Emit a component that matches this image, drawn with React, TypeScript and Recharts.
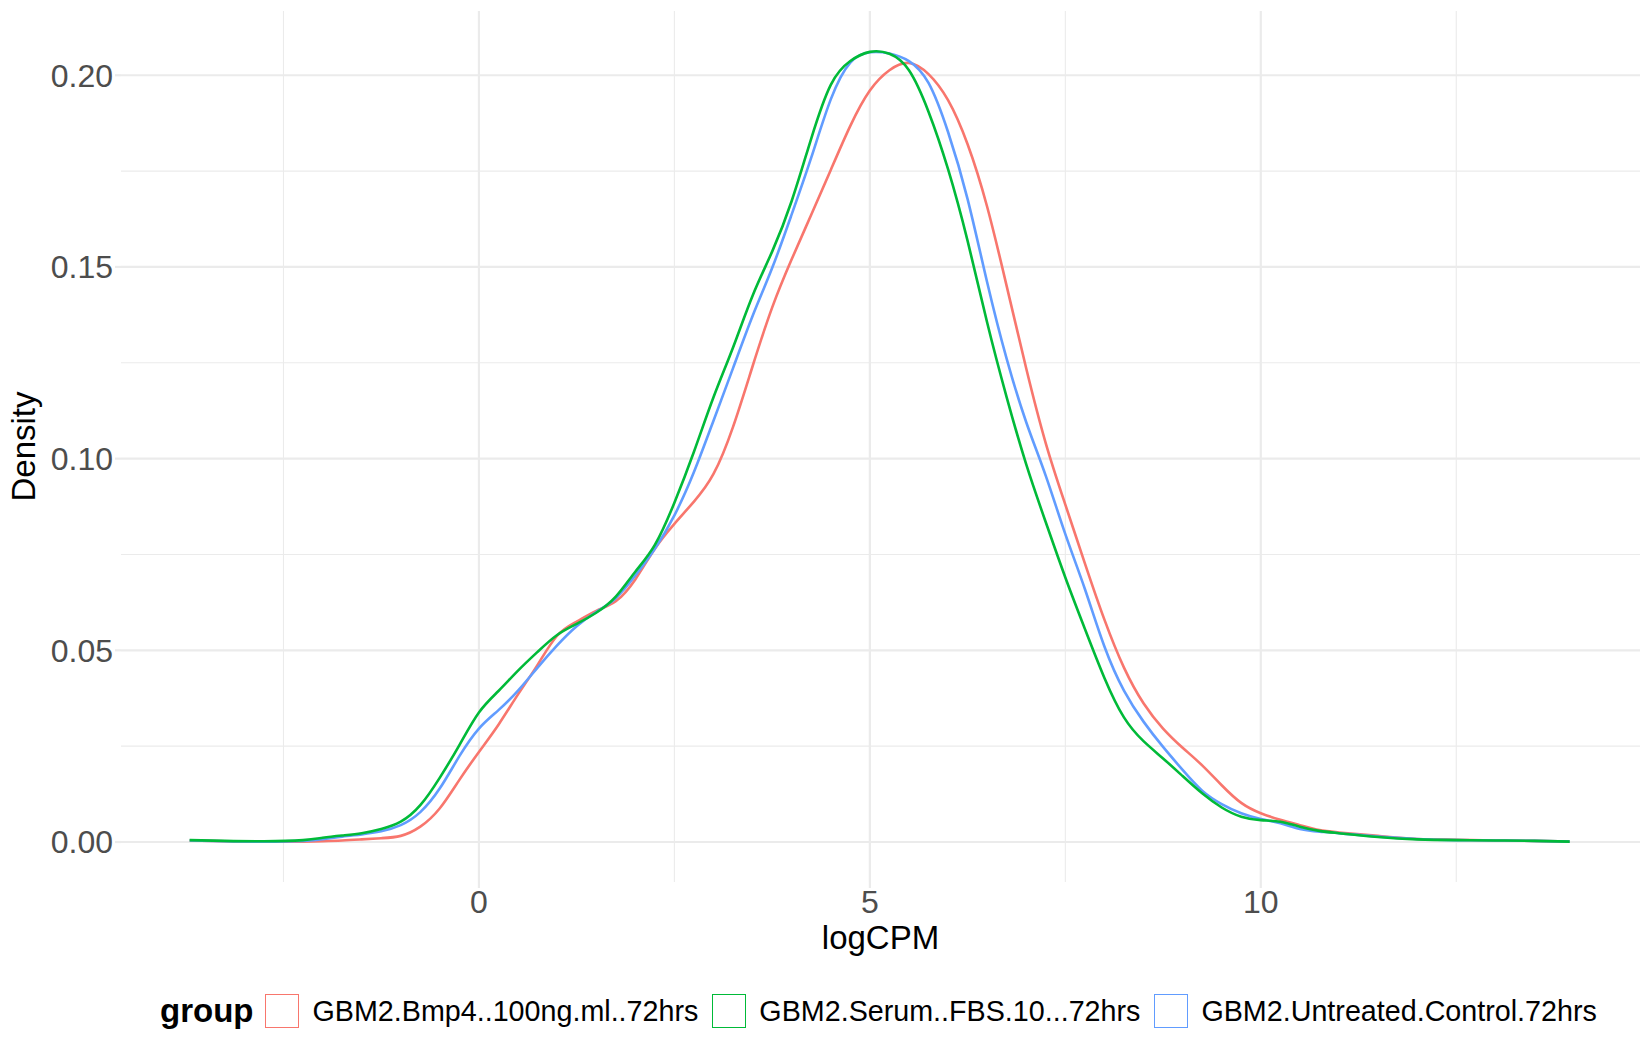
import React from 'react';
import { LineChart, Line, XAxis, YAxis, ReferenceLine, Label } from 'recharts';

// x grid of the density estimate (logCPM)
const logCPM = [
  -3.7, -3.25, -2.75, -2.25, -2, -1.75, -1.5, -1.25, -1, -0.75, -0.5, -0.25,
  0, 0.25, 0.5, 0.75, 1, 1.25, 1.5, 1.75, 2, 2.25, 2.5, 2.75,
  3, 3.25, 3.5, 3.75, 4, 4.25, 4.5, 4.75, 5, 5.25, 5.5, 5.75,
  6, 6.25, 6.5, 6.75, 7, 7.25, 7.5, 7.75, 8, 8.25, 8.5, 8.75,
  9, 9.25, 9.5, 9.75, 10, 10.25, 10.5, 10.75, 11, 11.5, 12, 12.5,
  13, 13.5, 13.95,
];

const bmp4 = [
  0.0004, 0.0002, 0.0001, 0.0001, 0.0002, 0.0004, 0.0007, 0.0010, 0.0016, 0.0040, 0.0088, 0.0162,
  0.0235, 0.0306, 0.0385, 0.0462, 0.0538, 0.0575, 0.0603, 0.0628, 0.0685, 0.0765, 0.0830, 0.0888,
  0.0960, 0.1083, 0.1241, 0.1394, 0.1520, 0.1636, 0.1753, 0.1868, 0.1960, 0.2013, 0.2032, 0.2003,
  0.1935, 0.1820, 0.1657, 0.1450, 0.1235, 0.1040, 0.0880, 0.0727, 0.0580, 0.0455, 0.0362, 0.0296,
  0.0246, 0.0200, 0.0148, 0.0102, 0.0075, 0.0058, 0.0044, 0.0031, 0.0025, 0.0016, 0.0008, 0.0006,
  0.0004, 0.0003, 0.0001,
];

const serum = [
  0.0005, 0.0003, 0.0002, 0.0005, 0.0011, 0.0017, 0.0023, 0.0034, 0.0053, 0.0096, 0.0168, 0.0253,
  0.0338, 0.0394, 0.0447, 0.0496, 0.0540, 0.0569, 0.0598, 0.0640, 0.0705, 0.0775, 0.0885, 0.1018,
  0.1160, 0.1290, 0.1425, 0.1540, 0.1672, 0.1835, 0.1975, 0.2037, 0.2061, 0.2056, 0.2013, 0.1905,
  0.1755, 0.1568, 0.1355, 0.1160, 0.0985, 0.0834, 0.0690, 0.0556, 0.0428, 0.0325, 0.0263, 0.0218,
  0.0172, 0.0127, 0.0090, 0.0066, 0.0057, 0.0053, 0.0040, 0.0029, 0.0023, 0.0013, 0.0007, 0.0005,
  0.0004, 0.0003, 0.0001,
];

const untreated = [
  0.0004, 0.0002, 0.0001, 0.0003, 0.0007, 0.0014, 0.0020, 0.0028, 0.0044, 0.0078, 0.0140, 0.0224,
  0.0296, 0.0344, 0.0395, 0.0455, 0.0513, 0.0563, 0.0600, 0.0636, 0.0695, 0.0765, 0.0852, 0.0965,
  0.1099, 0.1236, 0.1372, 0.1497, 0.1637, 0.1785, 0.1937, 0.2033, 0.2060, 0.2057, 0.2037, 0.1980,
  0.1852, 0.1677, 0.1460, 0.1260, 0.1095, 0.0955, 0.0803, 0.0660, 0.0510, 0.0395, 0.0314, 0.0248,
  0.0188, 0.0134, 0.0099, 0.0075, 0.0060, 0.0049, 0.0034, 0.0027, 0.0023, 0.0014, 0.0008, 0.0005,
  0.0004, 0.0003, 0.0001,
];

const groupNames = ['GBM2.Bmp4..100ng.ml..72hrs', 'GBM2.Serum..FBS.10...72hrs', 'GBM2.Untreated.Control.72hrs'];
const groupKeys = ['bmp4', 'serum', 'untreated'];
const groupColors = ['#F8766D', '#00BA38', '#619CFF'];

const xTicks = [0, 5, 10];
const xMinor = [-2.5, 2.5, 7.5, 12.5];
const yTicks = [0, 0.05, 0.1, 0.15, 0.2];
const yMinor = [0.025, 0.075, 0.125, 0.175];

const FONT = '"Liberation Sans", Arial, Helvetica, sans-serif';
const GRID = '#EBEBEB';

const data = logCPM.map((x, i) => ({ x, bmp4: bmp4[i], serum: serum[i], untreated: untreated[i] }));

const DensityLabel = (props: any) => {
  const vb = props.viewBox;
  const x = vb.x + 35;
  const y = vb.y + vb.height / 2;
  return (
    <text x={x} y={y} transform={`rotate(-90 ${x} ${y})`} textAnchor="middle" fontSize={33} fill="#000">
      Density
    </text>
  );
};

export default function App() {
  // draw order: red, blue, green (green ends up on top like the original)
  const drawOrder = [0, 2, 1];
  return (
    <div style={{ position: 'relative', width: 1650, height: 1050, fontFamily: FONT, background: '#fff' }}>
      <style>{'body{margin:0}'}</style>
      <LineChart width={1650} height={1050} data={data} margin={{ top: 11, right: 10, bottom: 0, left: 0 }}>
        {xMinor.map(v => (
          <ReferenceLine key={'xm' + v} x={v} stroke={GRID} strokeWidth={1.1} />
        ))}
        {yMinor.map(v => (
          <ReferenceLine key={'ym' + v} y={v} stroke={GRID} strokeWidth={1.1} />
        ))}
        {xTicks.map(v => (
          <ReferenceLine key={'xM' + v} x={v} stroke={GRID} strokeWidth={2.2} />
        ))}
        {yTicks.map(v => (
          <ReferenceLine key={'yM' + v} y={v} stroke={GRID} strokeWidth={2.2} />
        ))}
        <XAxis
          dataKey="x"
          type="number"
          domain={[-4.578, 14.85]}
          allowDataOverflow
          ticks={xTicks}
          interval={0}
          height={168}
          axisLine={false}
          tickLine={{ stroke: GRID, strokeWidth: 2.2 }}
          tickSize={6}
          tick={{ fontSize: 32, fill: '#4D4D4D' }}
        >
          <Label value="logCPM" position="insideTop" offset={44} style={{ fontSize: 33, fill: '#000' }} />
        </XAxis>
        <YAxis
          type="number"
          domain={[-0.01043, 0.21676]}
          allowDataOverflow
          ticks={yTicks}
          interval={0}
          width={121}
          axisLine={false}
          tickLine={{ stroke: GRID, strokeWidth: 2.2 }}
          tickSize={6}
          tick={{ fontSize: 32, fill: '#4D4D4D' }}
          tickFormatter={(v: number) => v.toFixed(2)}
        >
          <Label content={DensityLabel} />
        </YAxis>
        {drawOrder.map(i => (
          <Line
            key={groupKeys[i]}
            dataKey={groupKeys[i]}
            type="natural"
            stroke={groupColors[i]}
            strokeWidth={2.6}
            dot={false}
            activeDot={false}
            isAnimationActive={false}
          />
        ))}
      </LineChart>

      <div
        style={{
          position: 'absolute',
          top: 993,
          left: 160,
          height: 36,
          display: 'flex',
          alignItems: 'center',
          whiteSpace: 'nowrap',
        }}
      >
        <span style={{ fontSize: 33, fontWeight: 'bold', lineHeight: '36px', marginRight: 12, color: '#000' }}>group</span>
        {groupNames.map((name, i) => (
          <React.Fragment key={name}>
            <span
              style={{
                display: 'inline-block',
                boxSizing: 'border-box',
                width: 34,
                height: 34,
                border: `1.6px solid ${groupColors[i]}`,
                background: '#fff',
                marginRight: 13,
              }}
            />
            <span style={{ fontSize: 28.7, lineHeight: '36px', marginRight: 14, color: '#000' }}>{name}</span>
          </React.Fragment>
        ))}
      </div>
    </div>
  );
}
